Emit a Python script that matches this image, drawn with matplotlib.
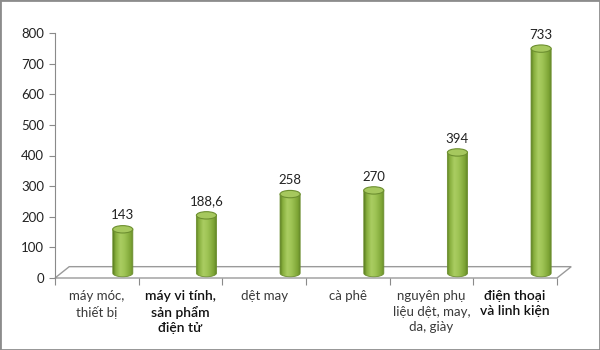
import numpy as np
import matplotlib.pyplot as plt
from matplotlib.patches import Ellipse, Polygon, Rectangle
from matplotlib.colors import LinearSegmentedColormap
from matplotlib.transforms import blended_transform_factory

plt.rcParams['font.family'] = ['Lato', 'Noto Sans', 'DejaVu Sans']

categories = ['máy móc,\nthiết bị', 'máy vi tính,\nsản phẩm\nđiện tử', 'dệt may',
              'cà phê', 'nguyên phụ\nliệu dệt, may,\nda, giày', 'điện thoại\nvà linh kiện']
values = [143, 188.6, 258, 270, 394, 733]
value_labels = ['143', '188,6', '258', '270', '394', '733']
highlight = [False, True, False, False, False, True]

fig = plt.figure(figsize=(6, 3.5), dpi=100)
ax = fig.add_axes([55 / 600, 72 / 350, 502 / 600, 245 / 350])

n = len(values)
shift = 0.31      # 3d depth shift of the bars
base = 16         # bar base lifted onto the floor
bw = 0.24         # bar width (category units)
eh = 24           # ellipse height (value units)
fdx, fdy = 0.17, 37   # floor depth

# floor
floor = Polygon([(0, 0), (n, 0), (n + fdx, fdy), (fdx, fdy)], closed=True,
                facecolor='white', edgecolor='#9a9a9a', lw=1.0, clip_on=False, zorder=1)
ax.add_patch(floor)

cmap = LinearSegmentedColormap.from_list('cyl', [
    (0.0, '#5b7f22'), (0.12, '#86ad3c'), (0.35, '#aacd62'), (0.55, '#9fc455'),
    (0.85, '#7ea536'), (1.0, '#5e8224')])
grad = np.linspace(0, 1, 64).reshape(1, -1)

for i, v in enumerate(values):
    xc = i + 0.5 + shift
    top = base + v
    t = np.linspace(np.pi, 2 * np.pi, 40)
    pts = [(xc - bw / 2, top)]
    pts += list(zip(xc + bw / 2 * np.cos(t), base + eh / 2 * np.sin(t)))
    pts += [(xc + bw / 2, top)]
    body = Polygon(pts, closed=True, facecolor='none', edgecolor='none')
    ax.add_patch(body)
    im = ax.imshow(grad, cmap=cmap, aspect='auto', interpolation='bilinear',
                   extent=[xc - bw / 2, xc + bw / 2, base - eh / 2, top], zorder=3)
    im.set_clip_path(body)
    ax.add_patch(Polygon(pts, closed=True, facecolor='none', edgecolor='#6d8f30',
                         lw=0.6, zorder=4))
    ax.add_patch(Ellipse((xc, top), bw, eh, facecolor='#a6c85e', edgecolor='#6d8f30',
                         lw=0.8, zorder=5))
    ax.annotate(value_labels[i], (xc, top + eh / 2), xytext=(0, 3),
                textcoords='offset points', ha='center', va='bottom',
                fontsize=9.5, color='#222222')

ax.set_xlim(0, n)
ax.set_ylim(0, 800)
ax.set_yticks(range(0, 801, 100))
ax.set_xticks(range(0, n + 1))
ax.set_xticklabels([])
ax.tick_params(axis='y', direction='out', length=4, color='#8a8a8a',
               labelsize=9.5, labelcolor='#222222', pad=4)
ax.tick_params(axis='x', direction='out', length=5, color='#8a8a8a')
for s in ['top', 'right', 'bottom']:
    ax.spines[s].set_visible(False)
ax.spines['left'].set_color('#8a8a8a')
ax.patch.set_alpha(0)

trans = blended_transform_factory(ax.transData, ax.transAxes)
for i, lab in enumerate(categories):
    if highlight[i]:
        ax.text(i + 0.5, -0.05, lab, transform=trans, ha='center', va='top',
                fontsize=10, fontweight='semibold', color='#111111', linespacing=1.3)
    else:
        ax.text(i + 0.5, -0.05, lab, transform=trans, ha='center', va='top',
                fontsize=9.5, color='#3a3a3a', linespacing=1.35)

fig.patches.append(Rectangle((0, 0), 1, 1, transform=fig.transFigure, fill=False,
                             edgecolor='#8c8c8c', lw=2))

fig.savefig('out.png', dpi=100)
